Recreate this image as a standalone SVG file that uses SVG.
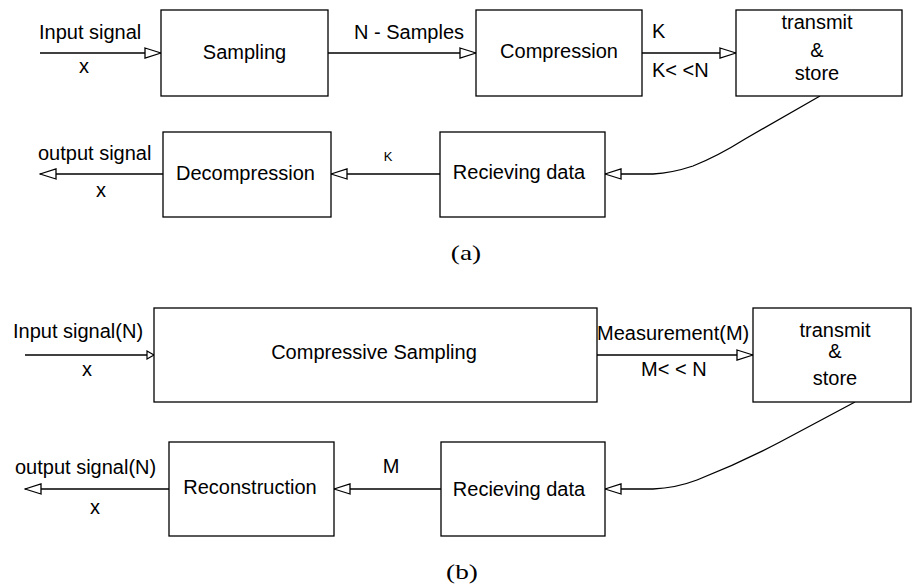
<svg xmlns="http://www.w3.org/2000/svg" width="912" height="587" viewBox="0 0 912 587">
<style>
  .box { fill: #ffffff; stroke: #000000; stroke-width: 1.3; }
  .ln { fill: none; stroke: #000000; stroke-width: 1.3; }
  text { font-family: "Liberation Sans", Arial, sans-serif; font-size: 20px; fill: #000000; }
  .c { text-anchor: middle; }
  .sm { font-size: 13px; }
  .cap { font-family: "Liberation Serif", "Times New Roman", serif; font-size: 21px; }
</style>
<defs>
  <marker id="ah" markerUnits="userSpaceOnUse" markerWidth="18" markerHeight="12" refX="16" refY="5" orient="auto" viewBox="-1 -1 18 12">
    <path d="M0,0 L16,5 L0,10 Z" fill="#ffffff" stroke="#000000" stroke-width="1.3"/>
  </marker>
  <marker id="ahs" markerUnits="userSpaceOnUse" markerWidth="10" markerHeight="10" refX="7" refY="4" orient="auto" viewBox="-1 -1 10 10">
    <path d="M0,0 L7,4 L0,8 Z" fill="#ffffff" stroke="#000000" stroke-width="1.2"/>
  </marker>
</defs>

<g id="connectors">
  <!-- (a) -->
  <line class="ln" x1="40" y1="53" x2="161" y2="53" marker-end="url(#ah)"/>
  <line class="ln" x1="328" y1="53" x2="476" y2="53" marker-end="url(#ah)"/>
  <line class="ln" x1="642" y1="53" x2="736" y2="53" marker-end="url(#ah)"/>
  <path class="ln" d="M820,96 L745,139 Q718,156 693,166 Q672,173 653,174 L605,174" marker-end="url(#ah)"/>
  <line class="ln" x1="440" y1="174" x2="331" y2="174" marker-end="url(#ah)"/>
  <line class="ln" x1="163" y1="174" x2="40" y2="174" marker-end="url(#ah)"/>
  <!-- (b) -->
  <line class="ln" x1="25" y1="355" x2="154" y2="355" marker-end="url(#ahs)"/>
  <line class="ln" x1="597" y1="355" x2="753" y2="355" marker-end="url(#ah)"/>
  <path class="ln" d="M855,402 L780,442 Q740,463 697,480 Q676,488 653,489 L605,489" marker-end="url(#ah)"/>
  <line class="ln" x1="441" y1="489" x2="334" y2="489" marker-end="url(#ah)"/>
  <line class="ln" x1="169" y1="489" x2="25" y2="489" marker-end="url(#ah)"/>
</g>

<g id="labels">
  <text x="39" y="39">Input signal</text>
  <text class="c" x="84" y="73">x</text>
  <text x="354" y="39">N - Samples</text>
  <text x="652" y="38">K</text>
  <text x="652" y="77">K&lt; &lt;N</text>
  <text class="c sm" x="388" y="161">K</text>
  <text x="38" y="160">output signal</text>
  <text class="c" x="101" y="197">x</text>
  <text class="cap c" transform="translate(466,260) scale(1.3,1)">(a)</text>

  <text x="13" y="338">Input signal(N)</text>
  <text class="c" x="87" y="376">x</text>
  <text x="597" y="340">Measurement(M)</text>
  <text x="641" y="376">M&lt; &lt; N</text>
  <text class="c" x="391" y="473">M</text>
  <text x="15" y="474">output signal(N)</text>
  <text class="c" x="95" y="514">x</text>
  <text class="cap c" transform="translate(462,579) scale(1.3,1)">(b)</text>
</g>

<g id="sampling">
  <rect class="box" x="161" y="10" width="167" height="86"/>
  <text class="c" x="244.5" y="59">Sampling</text>
</g>
<g id="compression">
  <rect class="box" x="476" y="10" width="166" height="86"/>
  <text class="c" x="559" y="58">Compression</text>
</g>
<g id="transmit-a">
  <rect class="box" x="736" y="10" width="166" height="86"/>
  <text class="c" x="817" y="29">transmit</text>
  <text class="c" x="817" y="57">&amp;</text>
  <text class="c" x="817" y="80">store</text>
</g>
<g id="receiving-a">
  <rect class="box" x="440" y="132" width="165" height="85"/>
  <text class="c" x="519" y="179">Recieving data</text>
</g>
<g id="decompression">
  <rect class="box" x="163" y="132" width="168" height="85"/>
  <text class="c" x="245.5" y="180">Decompression</text>
</g>

<g id="compressive-sampling">
  <rect class="box" x="154" y="308" width="443" height="94"/>
  <text class="c" x="374" y="359">Compressive Sampling</text>
</g>
<g id="transmit-b">
  <rect class="box" x="753" y="308" width="158" height="94"/>
  <text class="c" x="835" y="337">transmit</text>
  <text class="c" x="835" y="358">&amp;</text>
  <text class="c" x="835" y="385">store</text>
</g>
<g id="receiving-b">
  <rect class="box" x="441" y="442" width="164" height="94"/>
  <text class="c" x="519" y="496">Recieving data</text>
</g>
<g id="reconstruction">
  <rect class="box" x="169" y="442" width="165" height="94"/>
  <text class="c" x="250" y="494">Reconstruction</text>
</g>
</svg>
